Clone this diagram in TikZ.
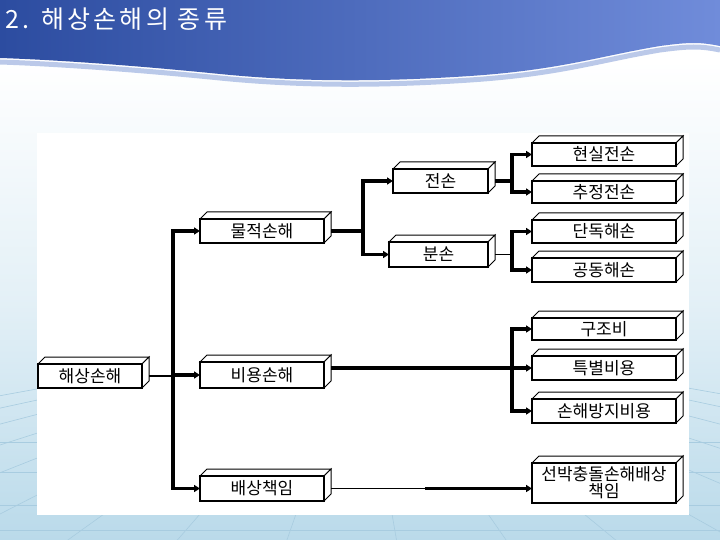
\documentclass[tikz,border=0pt]{standalone}
\usepackage{fontspec}
\newfontfamily\kr{Noto Sans CJK KR}
\newfontfamily\krtitle[LetterSpace=13]{Noto Sans CJK KR}
\usetikzlibrary{arrows.meta}
\definecolor{hdrL}{RGB}{44,76,160}
\definecolor{hdrR}{RGB}{112,140,218}
\definecolor{waveC}{RGB}{170,188,228}
\definecolor{bgBot}{RGB}{186,218,234}
\definecolor{gridC}{RGB}{168,204,224}
\newcommand\cubefaces[1]{%
  \filldraw[face] (#1.north west) -- ++(7,-7) -- ([shift={(7,-7)}]#1.north east) -- (#1.north east) -- cycle;
  \filldraw[face] (#1.north east) -- ([shift={(7,-7)}]#1.north east) -- ([shift={(7,-7)}]#1.south east) -- (#1.south east) -- cycle;
  \draw[line width=2pt] (#1.north west) rectangle (#1.south east);}
\begin{document}
\begin{tikzpicture}[x=1pt,y=-1pt,
  box/.style={draw, line width=2pt, fill=white, inner sep=0pt, outer sep=0pt,
    minimum height=24pt, font=\kr\fontsize{17}{18}\selectfont, align=center},
  face/.style={draw, line width=1pt, fill=white, line join=miter},
  thk/.style={line width=3.2pt, line join=miter},
  thn/.style={line width=1.4pt},
  arr/.style={-{Triangle[length=6pt,width=7pt]}}]
\useasboundingbox (0,0) rectangle (720,540);
% background
\shade[top color=white, bottom color=bgBot, middle color=white!60!bgBot] (0,60) rectangle (720,540);
\foreach \bx in {-900,-700,-520,-360,-220,-90,40,160,280,400,520,640,770,900,1060,1240,1440,1660} {
  \draw[gridC, line width=0.6pt] (360,330) -- (\bx,560);
}
\foreach \hy in {442,472,505,530} { \draw[gridC, line width=0.6pt] (0,\hy) -- (720,\hy); }
% header
\shade[left color=hdrL, right color=hdrR]
  (0,0) -- (720,0) -- (720,46) .. controls (700,42) and (690,42) .. (660,46)
  .. controls (600,56) and (560,70) .. (470,76) .. controls (380,82) and (300,82) .. (220,74)
  .. controls (140,66) and (60,60) .. (0,58) -- cycle;
\draw[waveC, line width=5pt, opacity=0.8]
  (720,50) .. controls (700,46) and (690,46) .. (660,50)
  .. controls (600,60) and (560,74) .. (470,80) .. controls (380,86) and (300,86) .. (220,78)
  .. controls (140,70) and (60,64) .. (0,62);
% panel
\fill[white] (37,133) rectangle (689,515);
% title
\node[anchor=west, text=white, font=\krtitle\fontsize{25}{28}\selectfont, inner sep=0pt] (title) at (5,19) {2. 해상손해의 종류};
% boxes
\node[box, minimum width=104pt] (hs) at (90,376) {해상손해};
\node[box, minimum width=124pt] (mj) at (262,231) {물적손해};
\node[box, minimum width=124pt, minimum height=26pt] (by) at (262,375) {비용손해};
\node[box, minimum width=124pt, minimum height=25pt] (bs) at (262,488.5) {배상책임};
\node[box, minimum width=95pt] (js) at (440.5,181) {전손};
\node[box, minimum width=99pt, minimum height=25pt] (bn) at (438.5,254.5) {분손};
\node[box, minimum width=144pt, minimum height=23pt] (hsj) at (604,154.5) {현실전손};
\node[box, minimum width=144pt, minimum height=22pt] (cj) at (604,192) {추정전손};
\node[box, minimum width=144pt, minimum height=23pt] (dd) at (604,231.5) {단독해손};
\node[box, minimum width=144pt, minimum height=24pt] (gd) at (604,270) {공동해손};
\node[box, minimum width=144pt, minimum height=22pt] (gj) at (604,329) {구조비};
\node[box, minimum width=144pt, minimum height=24pt] (tb) at (604,368) {특별비용};
\node[box, minimum width=144pt, minimum height=24pt] (sb) at (604,411) {손해방지비용};
\node[box, minimum width=144pt, minimum height=40pt, font=\kr\fontsize{17}{17}\selectfont] (sc) at (604,483) {선박충돌손해배상\\책임};
\foreach \n in {hs,mj,by,bs,js,bn,hsj,cj,dd,gd,gj,tb,sb,sc} { \cubefaces{\n} }
% junction coordinates
\coordinate (t1) at (173,0);
\coordinate (t2) at (363,0);
\coordinate (t3) at (512,0);
\coordinate (mid) at (425,0);
% connectors level 1
\draw[thn] ([xshift=7pt]hs.east) -- (hs.east -| t1);
\draw[thk,arr] (bs.west -| t1) |- (mj.west);
\draw[thk,arr] (mj.west -| t1) |- (bs.west);
\draw[thk,arr] (by.west -| t1) -- (by.west);
% level 2
\draw[thk] ([xshift=7pt]mj.east) -- (mj.east -| t2);
\draw[thk,arr] (bn.west -| t2) |- (js.west);
\draw[thk,arr] (js.west -| t2) |- (bn.west);
% level 3
\draw[thk] ([xshift=7pt]js.east) -- (js.east -| t3);
\draw[thk,arr] (cj.west -| t3) |- (hsj.west);
\draw[thk,arr] (hsj.west -| t3) |- (cj.west);
\draw[thn] ([xshift=7pt]bn.east) -- (bn.east -| t3);
\draw[thk,arr] (gd.west -| t3) |- (dd.west);
\draw[thk,arr] (dd.west -| t3) |- (gd.west);
% cost branch
\draw[thk,arr] ([xshift=7pt]tb.west -| by.east) -- (tb.west);
\draw[thk,arr] (sb.west -| t3) |- (gj.west);
\draw[thk,arr] (gj.west -| t3) |- (sb.west);
% liability
\draw[thn] ([xshift=7pt]bs.east) -- (bs.east -| mid);
\draw[thk,arr] (bs.east -| mid) -- (bs.east -| sc.west);
\end{tikzpicture}
\end{document}
